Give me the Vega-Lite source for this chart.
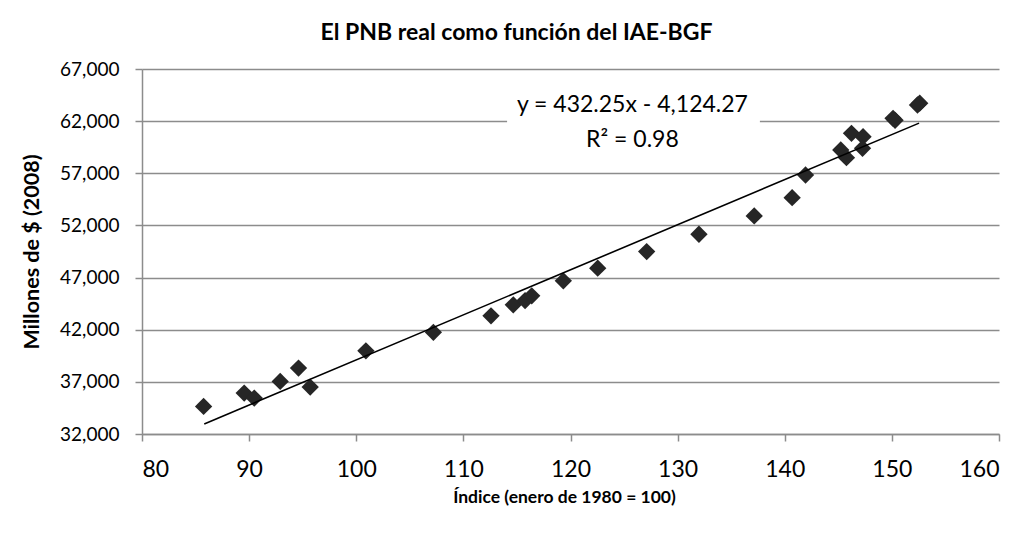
{
  "$schema": "https://vega.github.io/schema/vega-lite/v6.json",
  "width": 857,
  "height": 365,
  "autosize": {"type": "none"},
  "padding": {"left": 142, "top": 69, "right": 33, "bottom": 104},
  "background": "white",
  "config": {
    "font": "Lato",
    "view": {"stroke": null},
    "axis": {"gridColor": "#8c8c8c", "gridWidth": 1.5, "domainColor": "#8c8c8c", "domainWidth": 1.5, "tickColor": "#8c8c8c", "tickWidth": 1.5, "tickSize": 7, "labelColor": "#000000", "titleColor": "#000000", "labelFont": "Lato", "titleFont": "Lato"}
  },
  "title": {"text": "El PNB real como función del IAE-BGF", "font": "Lato", "fontSize": 23, "fontWeight": "bold", "color": "#000000", "anchor": "middle", "dx": -54, "offset": 15},
  "datasets": {
    "pts": [
      {"indice": 85.75, "pnb": 34644},
      {"indice": 89.54, "pnb": 35927},
      {"indice": 90.48, "pnb": 35448},
      {"indice": 92.90, "pnb": 37038},
      {"indice": 94.61, "pnb": 38322},
      {"indice": 95.70, "pnb": 36502},
      {"indice": 100.90, "pnb": 39979},
      {"indice": 107.20, "pnb": 41750},
      {"indice": 112.58, "pnb": 43331},
      {"indice": 114.66, "pnb": 44385},
      {"indice": 115.76, "pnb": 44797},
      {"indice": 116.38, "pnb": 45248},
      {"indice": 119.33, "pnb": 46684},
      {"indice": 122.54, "pnb": 47901},
      {"indice": 127.11, "pnb": 49492},
      {"indice": 131.99, "pnb": 51157},
      {"indice": 137.15, "pnb": 52910},
      {"indice": 140.69, "pnb": 54663},
      {"indice": 141.94, "pnb": 56838},
      {"indice": 145.23, "pnb": 59232},
      {"indice": 145.76, "pnb": 58494},
      {"indice": 146.23, "pnb": 60833},
      {"indice": 147.31, "pnb": 60508},
      {"indice": 147.26, "pnb": 59397},
      {"indice": 150.11, "pnb": 62270},
      {"indice": 150.30, "pnb": 62080},
      {"indice": 152.39, "pnb": 63546},
      {"indice": 152.60, "pnb": 63720}
    ],
    "trend": [
      {"indice": 85.81, "pnb": 32967},
      {"indice": 152.54, "pnb": 61811}
    ],
    "box": [
      {"x1": 114.08, "x2": 137.68, "y1": 65457, "y2": 58753}
    ],
    "labels": [
      {"indice": 125.78, "pnb": 63550, "texto": "y = 432.25x - 4,124.27"},
      {"indice": 125.78, "pnb": 60200, "texto": "R² = 0.98"}
    ]
  },
  "layer": [
    {
      "data": {"name": "pts"},
      "mark": {"type": "point", "shape": "diamond", "filled": true, "color": "#262626", "size": 300, "opacity": 1},
      "encoding": {
        "x": {"field": "indice", "type": "quantitative", "scale": {"domain": [80, 160], "nice": false, "zero": false},
          "axis": {"values": [80, 90, 100, 110, 120, 130, 140, 150, 160], "grid": false, "title": "Índice (enero de 1980 = 100)", "labelFontSize": 23, "labelPadding": 17, "titleFontSize": 17.5, "titleFontWeight": "bold", "titleX": 422, "titleAlign": "center", "titleY": 63, "titleBaseline": "middle"}},
        "y": {"field": "pnb", "type": "quantitative", "scale": {"domain": [32000, 67000], "nice": false, "zero": false},
          "axis": {"values": [32000, 37000, 42000, 47000, 52000, 57000, 62000, 67000], "format": ",d", "grid": true, "title": "Millones de $ (2008)", "labelFontSize": 19, "labelPadding": 16, "titleFontSize": 21.5, "titleFontWeight": "bold", "titleX": -110, "titleBaseline": "middle"}}
      }
    },
    {
      "data": {"name": "trend"},
      "mark": {"type": "line", "color": "#000000", "strokeWidth": 1.6},
      "encoding": {
        "x": {"field": "indice", "type": "quantitative"},
        "y": {"field": "pnb", "type": "quantitative"}
      }
    },
    {
      "data": {"name": "box"},
      "mark": {"type": "rect", "color": "white", "opacity": 1},
      "encoding": {
        "x": {"field": "x1", "type": "quantitative"},
        "x2": {"field": "x2"},
        "y": {"field": "y1", "type": "quantitative"},
        "y2": {"field": "y2"}
      }
    },
    {
      "data": {"name": "labels"},
      "mark": {"type": "text", "font": "Lato", "fontSize": 23, "color": "#000000", "align": "center", "baseline": "middle"},
      "encoding": {
        "x": {"field": "indice", "type": "quantitative"},
        "y": {"field": "pnb", "type": "quantitative"},
        "text": {"field": "texto"}
      }
    }
  ]
}
